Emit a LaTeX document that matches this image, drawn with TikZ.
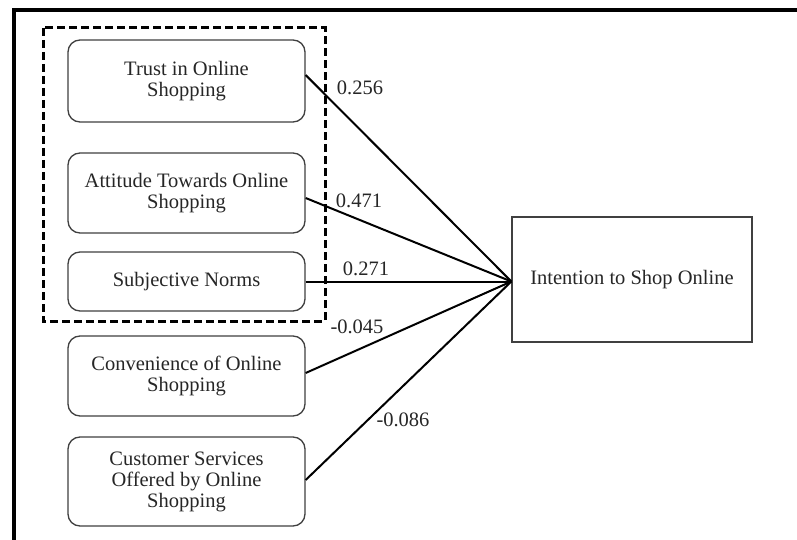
\documentclass[tikz,border=0pt]{standalone}
\usepackage{fontspec}
\setmainfont{Liberation Serif}
\begin{document}
\begin{tikzpicture}[x=1pt,y=-1pt,
  every node/.style={font=\fontsize{20.5}{21}\selectfont, text=black!85},
  factor/.style={draw=black!75, line width=1.3pt, rounded corners=12pt, minimum width=237pt, align=center, inner sep=0pt},
  result/.style={draw=black!75, line width=1.3pt, minimum width=240pt, minimum height=125pt, align=center, inner sep=0pt},
  path/.style={draw=black, line width=2pt},
  coef/.style={inner sep=0pt}
]
\useasboundingbox (0,0) rectangle (797,540);
\fill[white] (0,0) rectangle (797,540);
% outer frame (cut off at right and bottom)
\draw[line width=4.5pt] (14,540) -- (14,10) -- (797,10);
% dashed group
\draw[line width=3pt, dash pattern=on 8pt off 4pt] (43,28) rectangle (325,321);
% factors
\node[factor, minimum height=82pt] (trust) at (186.5,81) {Trust in Online\\Shopping};
\node[factor, minimum height=80pt] (att) at (186.5,193) {Attitude Towards Online\\Shopping};
\node[factor, minimum height=59pt] (subj) at (186.5,281.5) {Subjective Norms};
\node[factor, minimum height=80pt] (conv) at (186.5,376) {Convenience of Online\\Shopping};
\node[factor, minimum height=89pt] (cust) at (186.5,481.5) {Customer Services\\Offered by Online\\Shopping};
\node[result] (intent) at (632,279.5) {Intention to Shop Online};
\coordinate (hub) at ([yshift=-2pt]intent.west);
% paths
\draw[path] ([yshift=6pt]trust.east) -- (hub);
\draw[path] ([yshift=-5pt]att.east) -- (hub);
\draw[path] (subj.east) -- (hub);
\draw[path] ([yshift=3pt]conv.east) -- (hub);
\draw[path] ([yshift=1.5pt]cust.east) -- (hub);
% coefficients
\node[coef] (c1) at (360,88) {0.256};
\node[coef] (c2) at (359,201) {0.471};
\node[coef] (c3) at (366,269) {0.271};
\node[coef] (c4) at (357,327) {-0.045};
\node[coef] (c5) at (403,420) {-0.086};
\end{tikzpicture}
\end{document}
